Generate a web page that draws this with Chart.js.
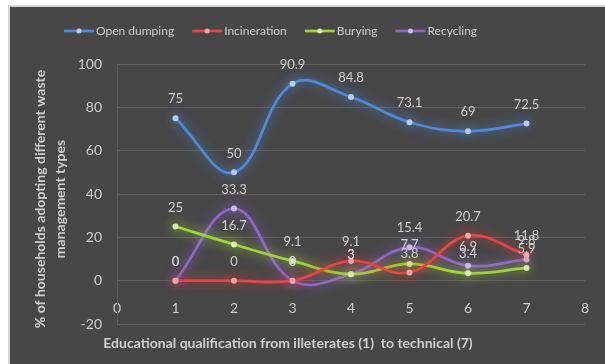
<!DOCTYPE html>
<html>
<head>
<meta charset="utf-8">
<script src="https://cdn.jsdelivr.net/npm/chart.js@4/dist/chart.umd.min.js"></script>
<style>
  html, body { margin: 0; padding: 0; background: #ffffff; }
  #wrap { width: 605px; height: 364px; position: relative; }
</style>
</head>
<body>
<div id="wrap"><canvas id="c" width="605" height="364"></canvas></div>
<script>
// Education level (1 = illiterate ... 7 = technical)
const levels = [1, 2, 3, 4, 5, 6, 7];
const seriesNames = ['Open dumping', 'Incineration', 'Burying', 'Recycling'];
// % of households per waste management type
const openDumping = [75, 50, 90.9, 84.8, 73.1, 69, 72.5];
const incineration = [0, 0, 0, 9.1, 3.8, 20.7, 11.8];
const burying = [25, 16.7, 9.1, 3, 7.7, 3.4, 5.9];
const recycling = [0, 33.3, 0, 3, 15.4, 6.9, 9.8];
const xTickValues = [0, 1, 2, 3, 4, 5, 6, 7, 8];
const yTickValues = [-20, 0, 20, 40, 60, 80, 100];
const xTitle = 'Educational qualification from illeterates (1)  to technical (7)';
const yTitle = ['% of households adopting different waste', 'management types'];

const lineColors = ['#4f8ad6', '#e44646', '#a3d03c', '#8c67c8'];
const markerColors = ['#b4cdf0', '#f2a6a6', '#dcefac', '#cdb9ec'];
const glowColors = ['rgba(80,140,235,0.9)', 'rgba(240,60,60,0.9)', 'rgba(170,225,60,0.9)', 'rgba(150,100,225,0.9)'];
const seriesValues = [openDumping, incineration, burying, recycling];

const FONT = 'Lato, "Open Sans", sans-serif';
const TEXT = '#cfcfcf';
const GRID = '#5f5f5f';

const datasets = seriesNames.map((name, i) => ({
  label: name,
  data: levels.map((lv, k) => ({ x: lv, y: seriesValues[i][k] })),
  borderColor: lineColors[i],
  backgroundColor: markerColors[i],
  pointBackgroundColor: markerColors[i],
  pointBorderWidth: 0,
  pointRadius: 3,
  borderWidth: 2.75,
  tension: 0.4,
  fill: false
}));

// frame: white page, light rim, dark chart panel
const panelPlugin = {
  id: 'panel',
  beforeDraw(chart) {
    const ctx = chart.ctx;
    ctx.save();
    ctx.fillStyle = '#ffffff';
    ctx.fillRect(0, 0, chart.width, chart.height);
    ctx.fillStyle = '#d6d6d6';
    ctx.fillRect(8, 5, chart.width - 8, chart.height - 5);
    ctx.fillStyle = '#474747';
    ctx.fillRect(10, 7, chart.width - 10, chart.height - 7);
    ctx.restore();
  }
};

// soft coloured halo round each series
const glowPlugin = {
  id: 'glow',
  beforeDatasetDraw(chart, args) {
    const ctx = chart.ctx;
    ctx.save();
    ctx.shadowColor = glowColors[args.index];
    ctx.shadowBlur = 12;
  },
  afterDatasetDraw(chart) {
    chart.ctx.restore();
  }
};

// value labels above each point
const valueLabelPlugin = {
  id: 'valueLabels',
  afterDatasetsDraw(chart) {
    const ctx = chart.ctx;
    ctx.save();
    ctx.font = '13px ' + FONT;
    ctx.fillStyle = TEXT;
    ctx.textAlign = 'center';
    ctx.textBaseline = 'middle';
    chart.data.datasets.forEach((ds, i) => {
      const meta = chart.getDatasetMeta(i);
      meta.data.forEach((pt, k) => {
        ctx.fillText(String(seriesValues[i][k]), pt.x, pt.y - 19);
      });
    });
    ctx.restore();
  }
};

// legend row and axis titles
const annotationPlugin = {
  id: 'annotations',
  afterDraw(chart) {
    const ctx = chart.ctx;
    ctx.save();
    // legend
    ctx.font = '12px ' + FONT;
    ctx.textBaseline = 'middle';
    ctx.textAlign = 'left';
    let x = 64;
    const y = 31;
    seriesNames.forEach((name, i) => {
      ctx.strokeStyle = lineColors[i];
      ctx.lineWidth = 2.75;
      ctx.beginPath();
      ctx.moveTo(x, y);
      ctx.lineTo(x + 30, y);
      ctx.stroke();
      ctx.fillStyle = markerColors[i];
      ctx.beginPath();
      ctx.arc(x + 15, y, 2.5, 0, Math.PI * 2);
      ctx.fill();
      ctx.fillStyle = TEXT;
      ctx.fillText(name, x + 32, y);
      x += 32 + ctx.measureText(name).width + 18;
    });
    // axis titles
    ctx.font = 'bold 14px ' + FONT;
    ctx.textAlign = 'center';
    ctx.fillStyle = TEXT;
    ctx.fillText(xTitle, 288, 343);
    ctx.translate(50, 199);
    ctx.rotate(-Math.PI / 2);
    ctx.fillText(yTitle[0], 0, -10);
    ctx.fillText(yTitle[1], 0, 10);
    ctx.restore();
  }
};

new Chart(document.getElementById('c'), {
  type: 'line',
  data: { datasets },
  plugins: [panelPlugin, glowPlugin, valueLabelPlugin, annotationPlugin],
  options: {
    responsive: false,
    animation: false,
    events: [],
    layout: { padding: { left: 10, right: 20, top: 64, bottom: 40 } },
    plugins: {
      legend: { display: false },
      tooltip: { enabled: false }
    },
    scales: {
      x: {
        type: 'linear',
        min: 0,
        max: 8,
        position: { y: 0 },
        grid: { display: false },
        border: { display: false },
        afterBuildTicks: s => { s.ticks = xTickValues.map(v => ({ value: v })); },
        ticks: { color: TEXT, font: { family: FONT, size: 14 }, padding: 11 }
      },
      y: {
        min: -20,
        max: 100,
        afterFit: s => { s.width = 107; },
        afterBuildTicks: s => { s.ticks = yTickValues.map(v => ({ value: v })); },
        grid: { color: GRID, drawTicks: false },
        border: { display: true, color: GRID },
        ticks: { color: TEXT, font: { family: FONT, size: 14 }, padding: 15 }
      }
    }
  }
});
</script>
</body>
</html>
